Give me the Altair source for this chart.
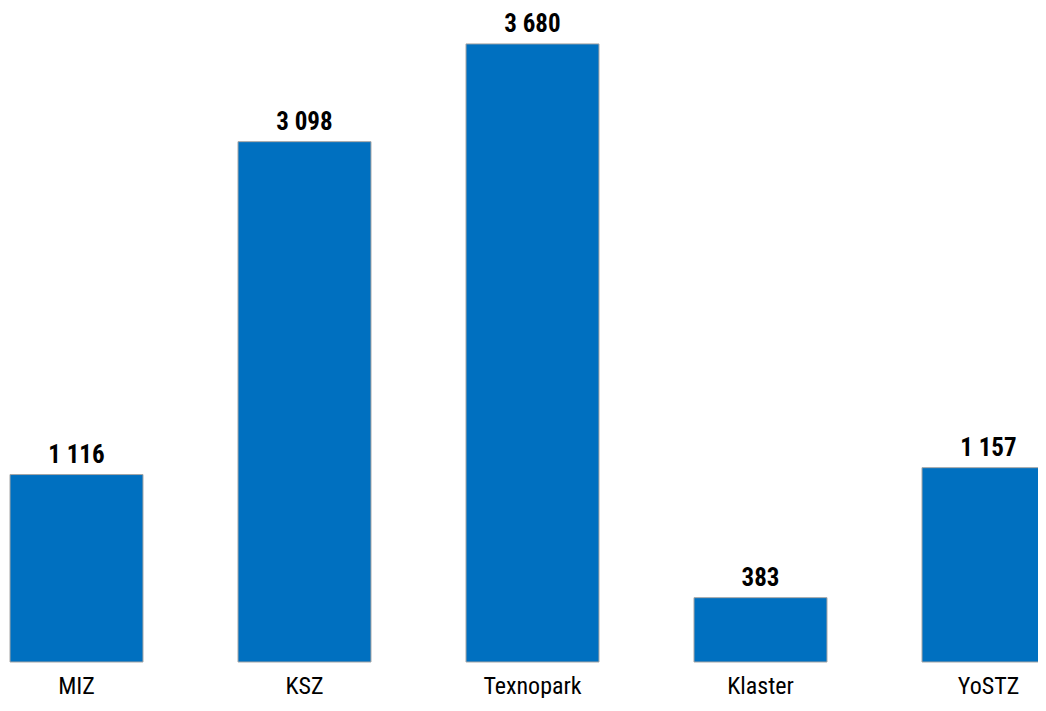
import altair as alt
import pandas as pd

categories = ["MIZ", "KSZ", "Texnopark", "Klaster", "YoSTZ"]
values = [1116, 3098, 3680, 383, 1157]
labels = [f"{v:,}".replace(",", " ") for v in values]

df = pd.DataFrame({"cat": categories, "val": values, "lab": labels})

FONT = "Roboto Condensed, Liberation Sans Narrow, DejaVu Sans Condensed, Roboto, sans-serif"

x = alt.X(
    "cat:N",
    sort=categories,
    title=None,
    scale=alt.Scale(range=[2, 1047], paddingInner=0.41667, paddingOuter=0),
    axis=alt.Axis(
        domain=False, ticks=False, labelAngle=0, labelFont=FONT, labelFontSize=24,
        labelColor="#000000", labelBaseline="alphabetic", labelPadding=31,
    ),
)
y = alt.Y("val:Q", title=None, axis=None, scale=alt.Scale(domain=[0, 3870], nice=False))

bars = alt.Chart(df).mark_bar(color="#0070C0", stroke="#A5A5A5", strokeWidth=1).encode(x=x, y=y)
text = alt.Chart(df).mark_text(
    font=FONT, fontSize=25, fontWeight="bold", color="#000000",
    baseline="alphabetic", dy=-12,
).encode(x=x, y=y, text="lab:N")

chart = (bars + text).properties(
    width=1030, height=650,
    autosize=alt.AutoSizeParams(type="none"),
    padding={"left": 0, "top": 4, "right": 0, "bottom": 36},
).configure_view(strokeWidth=0)

chart.save("out.html", embed_options={"renderer": "svg", "actions": False})
